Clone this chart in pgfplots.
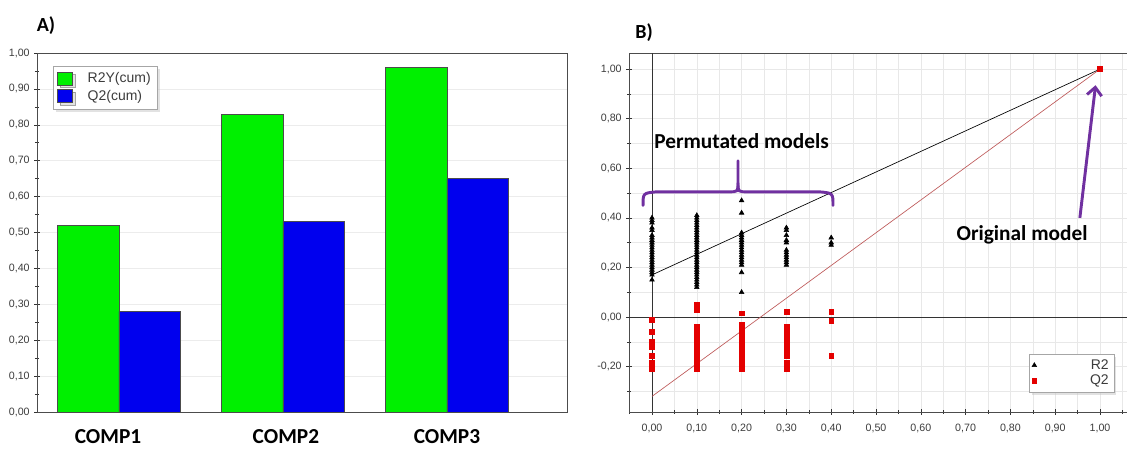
\documentclass[border=0pt]{standalone}
\usepackage{fontspec}
\setmainfont{Liberation Sans}
\newfontfamily\carlito{Carlito}
\usepackage{pgfplots}
\pgfplotsset{compat=1.18}
\usetikzlibrary{shadows,arrows.meta}

\definecolor{barG}{RGB}{0,240,0}
\definecolor{barB}{RGB}{0,0,238}
\definecolor{purp}{RGB}{112,48,160}
\definecolor{redpt}{RGB}{228,0,0}
\definecolor{redline}{RGB}{190,90,90}
\definecolor{tickc}{RGB}{60,60,60}

\pgfplotsset{
  commafmt/.style={
    /pgf/number format/fixed,
    /pgf/number format/fixed zerofill,
    /pgf/number format/precision=2,
    /pgf/number format/use comma,
    /pgf/number format/assume math mode=true,
  },
}

\begin{document}
\begin{tikzpicture}
\path[use as bounding box] (0,0) rectangle (845.25pt,336.75pt);
\node[font=\carlito\bfseries\fontsize{15}{17}\selectfont] at (34.5pt,317.25pt) {A)};
\node[font=\carlito\bfseries\fontsize{15}{17}\selectfont] at (483pt,312pt) {B)};

% ---------------- Panel A ----------------
\begin{axis}[
  at={(27.75pt,27.75pt)}, anchor=south west, scale only axis,
  width=397.5pt, height=269.25pt,
  xmin=-0.5, xmax=2.732, ymin=0, ymax=1,
  commafmt,
  ytick={0,0.1,0.2,0.3,0.4,0.5,0.6,0.7,0.8,0.9,1.0},
  minor ytick={0.05,0.15,0.25,0.35,0.45,0.55,0.65,0.75,0.85,0.95},
  ytick pos=left, tick align=center,
  major tick length=4pt, minor tick length=3pt,
  every tick/.style={black!80},
  ymajorgrids, major grid style={gray!15},
  xtick={-0.067,1.018,2.0},
  xticklabels={COMP1,COMP2,COMP3},
  major x tick style={draw=none},
  xticklabel style={font=\carlito\bfseries\fontsize{16}{18}\selectfont, anchor=base, inner sep=0pt, yshift=-21.5pt, text=black},
  yticklabel style={font=\fontsize{8}{9}\selectfont, text=tickc},
  axis line style={black!70},
  legend style={at={(0.030,0.964)}, anchor=north west, draw=gray!70, fill=white,
    font=\fontsize{10.5}{12.5}\selectfont, text=tickc,
    drop shadow={shadow xshift=1.8pt, shadow yshift=-1.8pt, fill=gray!45},
    inner sep=3pt, row sep=0pt},
  legend cell align=left,
  legend image code/.code={\draw[#1,draw=black!70] (0pt,-4.5pt) rectangle (11.5pt,5pt);},
]
\addplot[ybar, bar width=0.375, bar shift=-0.1875, fill=barG, draw=black!70]
  coordinates {(0,0.52) (1,0.83) (2,0.96)};
\addlegendentry{\hspace{9pt}R2Y(cum)}
\addplot[ybar, bar width=0.375, bar shift=0.1875, fill=barB, draw=black!70]
  coordinates {(0,0.28) (1,0.53) (2,0.65)};
\addlegendentry{\hspace{9pt}Q2(cum)}
\end{axis}

% ---------------- Panel B ----------------
\begin{axis}[
  at={(471.75pt,27.75pt)}, anchor=south west, scale only axis,
  width=375pt, height=269.25pt,
  xmin=-0.0513, xmax=1.0647, ymin=-0.383, ymax=1.065,
  commafmt,
  xtick={0,0.1,0.2,0.3,0.4,0.5,0.6,0.7,0.8,0.9,1.0},
  minor xtick={-0.05,0.05,0.15,0.25,0.35,0.45,0.55,0.65,0.75,0.85,0.95,1.05},
  ytick={-0.2,0,0.2,0.4,0.6,0.8,1.0},
  minor ytick={-0.3,-0.1,0.1,0.3,0.5,0.7,0.9},
  xtick pos=bottom, ytick pos=left, tick align=center,
  major tick length=4pt, minor tick length=3pt,
  every tick/.style={black!80},
  grid=both, major grid style={gray!18}, minor grid style={gray!18},
  xticklabel style={font=\fontsize{8}{9}\selectfont, text=tickc, anchor=base, yshift=-12.75pt},
  yticklabel style={font=\fontsize{8}{9}\selectfont, text=tickc},
  axis line style={black!70},
  legend style={at={(0.80,0.162)}, anchor=north west, draw=gray!70, fill=white,
    font=\fontsize{10.5}{12}\selectfont, text=tickc,
    drop shadow={shadow xshift=1.8pt, shadow yshift=-1.8pt, fill=gray!45},
    inner sep=2pt, row sep=-1pt},
]
% zero lines
\addplot[black!80, forget plot] coordinates {(0,-0.383) (0,1.065)};
\addplot[black!80, forget plot] coordinates {(-0.0513,0) (1.0647,0)};
% regression lines
\addplot[black, line width=0.5pt, forget plot] coordinates {(0,0.17) (1,1.0)};
\addplot[redline, line width=0.5pt, forget plot] coordinates {(0,-0.32) (1,1.0)};

% R2 points
\addplot[only marks, mark=triangle*, mark size=2pt, black] coordinates {
 (0,0.15) (0,0.17) (0,0.18) (0,0.19) (0,0.20) (0,0.21) (0,0.22) (0,0.23) (0,0.24) (0,0.25)
 (0,0.26) (0,0.27) (0,0.28) (0,0.29) (0,0.30) (0,0.31) (0,0.32) (0,0.33) (0,0.35) (0,0.36)
 (0,0.38) (0,0.39) (0,0.40)
 (0.1,0.12) (0.1,0.13) (0.1,0.14) (0.1,0.15) (0.1,0.16) (0.1,0.17) (0.1,0.18) (0.1,0.19)
 (0.1,0.20) (0.1,0.21) (0.1,0.22) (0.1,0.23) (0.1,0.24) (0.1,0.25) (0.1,0.26) (0.1,0.27)
 (0.1,0.28) (0.1,0.29) (0.1,0.30) (0.1,0.31) (0.1,0.32) (0.1,0.33) (0.1,0.34) (0.1,0.35)
 (0.1,0.36) (0.1,0.37) (0.1,0.38) (0.1,0.39) (0.1,0.40) (0.1,0.41)
 (0.2,0.10) (0.2,0.18) (0.2,0.21) (0.2,0.22) (0.2,0.23) (0.2,0.24) (0.2,0.25) (0.2,0.26)
 (0.2,0.27) (0.2,0.28) (0.2,0.29) (0.2,0.30) (0.2,0.31) (0.2,0.32) (0.2,0.33) (0.2,0.34)
 (0.2,0.42) (0.2,0.47)
 (0.3,0.21) (0.3,0.22) (0.3,0.23) (0.3,0.24) (0.3,0.25) (0.3,0.26) (0.3,0.27) (0.3,0.30)
 (0.3,0.31) (0.3,0.33) (0.3,0.35) (0.3,0.36)
 (0.4,0.29) (0.4,0.30) (0.4,0.32)
 (1,1)
};
\addlegendentry{\makebox[52pt][r]{R2}}

% Q2 points
\addplot[only marks, mark=square*, mark size=1.8pt, redpt] coordinates {
 (0,-0.01) (0,-0.06) (0,-0.10) (0,-0.12) (0,-0.155) (0,-0.185) (0,-0.20) (0,-0.21)
 (0.1,0.05) (0.1,0.03) (0.1,-0.04) (0.1,-0.05) (0.1,-0.06) (0.1,-0.07) (0.1,-0.08) (0.1,-0.09)
 (0.1,-0.10) (0.1,-0.11) (0.1,-0.12) (0.1,-0.13) (0.1,-0.14) (0.1,-0.15) (0.1,-0.16) (0.1,-0.17)
 (0.1,-0.18) (0.1,-0.19) (0.1,-0.20) (0.1,-0.21)
 (0.2,0.015) (0.2,-0.03) (0.2,-0.04) (0.2,-0.05) (0.2,-0.06) (0.2,-0.07) (0.2,-0.08) (0.2,-0.09)
 (0.2,-0.10) (0.2,-0.11) (0.2,-0.12) (0.2,-0.13) (0.2,-0.14) (0.2,-0.15) (0.2,-0.16) (0.2,-0.17)
 (0.2,-0.18) (0.2,-0.19) (0.2,-0.20) (0.2,-0.21)
 (0.3,0.02) (0.3,-0.04) (0.3,-0.06) (0.3,-0.08) (0.3,-0.09) (0.3,-0.10) (0.3,-0.12) (0.3,-0.13)
 (0.3,-0.14) (0.3,-0.155) (0.3,-0.185) (0.3,-0.21)
 (0.4,0.02) (0.4,-0.015) (0.4,-0.155)
 (1,1)
};
\addlegendentry{\makebox[52pt][r]{Q2}}

% annotations
\node[font=\carlito\bfseries\fontsize{16}{18}\selectfont] at (axis cs:0.2,0.71) {Permutated models};
\node[font=\carlito\bfseries\fontsize{16}{18}\selectfont] at (axis cs:0.826,0.33) {Original model};
\draw[purp, line width=2.2pt, line cap=round]
  (axis cs:-0.02,0.45) .. controls (axis cs:-0.02,0.50) .. (axis cs:0.01,0.505)
  -- (axis cs:0.17,0.505) .. controls (axis cs:0.192,0.505) .. (axis cs:0.192,0.54)
  -- (axis cs:0.192,0.63);
\draw[purp, line width=2.2pt, line cap=round]
  (axis cs:0.404,0.45) .. controls (axis cs:0.404,0.50) .. (axis cs:0.374,0.505)
  -- (axis cs:0.214,0.505) .. controls (axis cs:0.192,0.505) .. (axis cs:0.192,0.54);
\draw[purp, line width=2.2pt, -{Straight Barb[length=6pt,width=11pt]}]
  (axis cs:0.955,0.40) -- (axis cs:0.99,0.935);
\end{axis}
\end{tikzpicture}
\end{document}
